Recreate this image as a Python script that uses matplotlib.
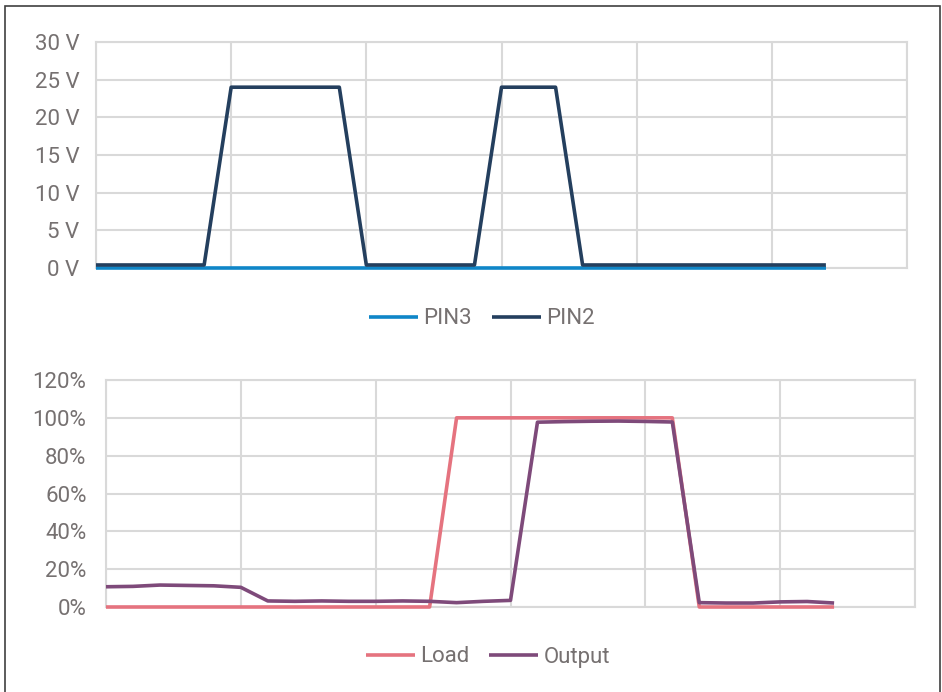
import matplotlib.pyplot as plt
import matplotlib.patches as mpatches
from matplotlib.ticker import FuncFormatter

# ---------------------------------------------------------------------------
# Data
# ---------------------------------------------------------------------------
steps = list(range(28))

pin3 = [0, 0, 0, 0, 0, 0, 0, 0, 0, 0, 0, 0, 0, 0,
        0, 0, 0, 0, 0, 0, 0, 0, 0, 0, 0, 0, 0, 0]
pin2 = [0.4, 0.4, 0.4, 0.4, 0.4, 24, 24, 24, 24, 24, 0.4, 0.4, 0.4, 0.4,
        0.4, 24, 24, 24, 0.4, 0.4, 0.4, 0.4, 0.4, 0.4, 0.4, 0.4, 0.4, 0.4]

load = [0, 0, 0, 0, 0, 0, 0, 0, 0, 0, 0, 0, 0, 100,
        100, 100, 100, 100, 100, 100, 100, 100, 0, 0, 0, 0, 0, 0]
output = [10.7, 10.9, 11.6, 11.4, 11.2, 10.4, 3.2, 3.0, 3.2, 3.0, 3.0, 3.2, 3.0, 2.3,
          3.0, 3.5, 97.7, 98.0, 98.2, 98.3, 98.1, 97.8, 2.3, 2.1, 2.1, 2.7, 2.9, 2.1]

volt_ticks = [0, 5, 10, 15, 20, 25, 30]
pct_ticks = [0, 20, 40, 60, 80, 100, 120]
x_grid = [0, 5, 10, 15, 20, 25, 30]

# ---------------------------------------------------------------------------
# Styling
# ---------------------------------------------------------------------------
plt.rcParams['font.family'] = ['Roboto', 'DejaVu Sans']
TEXT = '#767171'
GRID = '#d9d9d9'
W, H = 942, 692

fig = plt.figure(figsize=(W / 100, H / 100), dpi=100)

# outer frame (bottom edge runs off the image)
fig.patches.append(mpatches.Rectangle(
    (5 / W, -0.02), (940 - 5) / W, 1 - 6 / H + 0.02,
    transform=fig.transFigure, fill=False, edgecolor='#404040', linewidth=1.2))


def _style(ax, yticks, ypad):
    ax.set_xlim(0, 30)
    ax.set_xticks(x_grid)
    ax.set_xticklabels([])
    ax.set_yticks(yticks)
    ax.set_ylim(yticks[0], yticks[-1])
    ax.grid(True, color=GRID, linewidth=1.5)
    ax.set_axisbelow(True)
    for s in ax.spines.values():
        s.set_color(GRID)
        s.set_linewidth(1.5)
    ax.tick_params(length=0, labelsize=16, labelcolor=TEXT, pad=ypad)


line_kw = dict(linewidth=2.6, solid_capstyle='butt', clip_on=False, zorder=3)

# ---- Voltage panel --------------------------------------------------------
ax1 = fig.add_axes([96 / W, 1 - 268 / H, (907 - 96) / W, (268 - 42) / H])
ax1.plot(steps, pin3, color='#0F86C8', label='PIN3', **line_kw)
ax1.plot(steps, pin2, color='#243F5E', label='PIN2', **line_kw)
_style(ax1, volt_ticks, 12)
ax1.yaxis.set_major_formatter(FuncFormatter(lambda v, _: f'{v:.0f} V'))
ax1.legend(loc='center', bbox_to_anchor=(482 / W, 1 - 319 / H),
           bbox_transform=fig.transFigure, ncol=2, frameon=False,
           fontsize=16, labelcolor=TEXT, handlelength=2.2,
           handletextpad=0.25, columnspacing=0.9)

# ---- Load / output panel ------------------------------------------------
ax2 = fig.add_axes([106 / W, 1 - 607 / H, (915 - 106) / W, (607 - 380) / H])
ax2.plot(steps, load, color='#E5737F', label='Load', **line_kw)
ax2.plot(steps, output, color='#7E4A7A', label='Output', **line_kw)
_style(ax2, pct_ticks, 14)
ax2.yaxis.set_major_formatter(FuncFormatter(lambda v, _: f'{v:.0f}%'))
ax2.legend(loc='center', bbox_to_anchor=(488 / W, 1 - 657 / H),
           bbox_transform=fig.transFigure, ncol=2, frameon=False,
           fontsize=16, labelcolor=TEXT, handlelength=2.2,
           handletextpad=0.25, columnspacing=0.9)

plt.savefig('out.png', dpi=100)
